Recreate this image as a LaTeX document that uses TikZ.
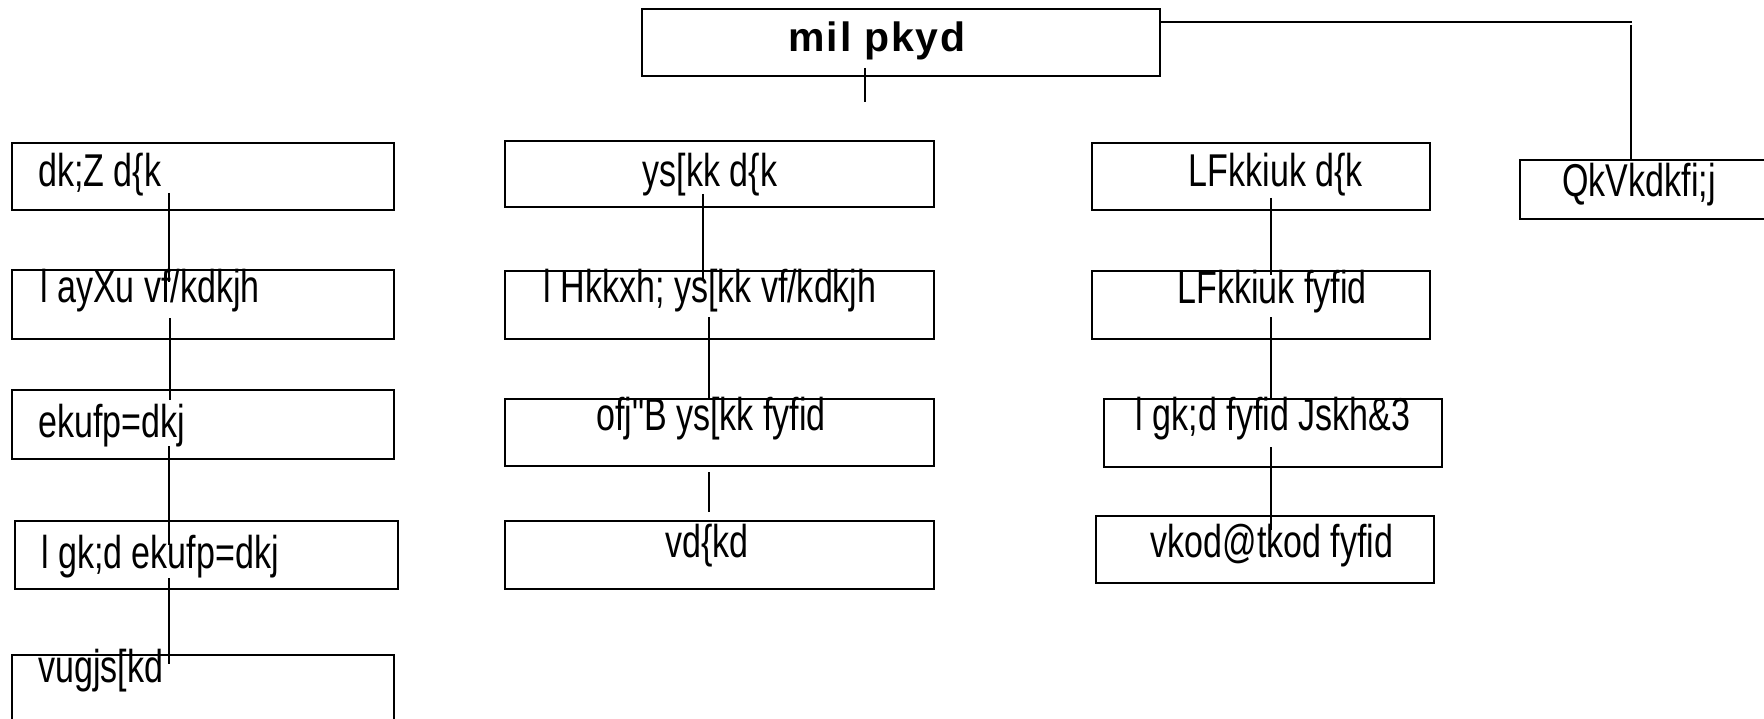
\documentclass[tikz,border=0pt]{standalone}
\usepackage{fontspec}
\setmainfont{Liberation Sans}
\newfontfamily\narrowfont[FakeStretch=0.74]{Liberation Sans}
\newfontfamily\topfont[LetterSpace=4]{Liberation Sans Bold}
\begin{document}
\begin{tikzpicture}[x=1pt,y=-1pt,
  box/.style={draw, line width=2pt, inner sep=0pt, anchor=north west},
  txt/.style={font=\narrowfont\fontsize{46}{50}\selectfont, inner sep=0pt, anchor=base west},
  ctxt/.style={txt, anchor=base},
  toptxt/.style={font=\topfont\fontsize{41}{44}\selectfont, inner sep=0pt, anchor=base},
  conn/.style={line width=2pt}]
\useasboundingbox (0,0) rectangle (1764,719);
\clip (0,0) rectangle (1764,719);
\fill[white] (0,0) rectangle (1764,719);
% top
\node[box, minimum width=518pt, minimum height=67pt] (top) at (641,8) {};
\node[toptxt] (topt) at (877,52) {mil pkyd};
% right branch
\node[box, minimum width=300pt, minimum height=59pt] (q) at (1519,159) {};
\node[ctxt] (qt) at (1639,197) {QkVkdkfi;j};
% left column
\node[box, minimum width=382pt, minimum height=67pt] (l1) at (11,142) {};
\node[txt] (l1t) at (38,187) {dk;Z d\{k};
\node[box, minimum width=382pt, minimum height=69pt] (l2) at (11,269) {};
\node[txt] (l2t) at (40,302) {l ayXu vf/kdkjh};
\node[box, minimum width=382pt, minimum height=69pt] (l3) at (11,389) {};
\node[txt] (l3t) at (38,437) {ekufp=dkj};
\node[box, minimum width=383pt, minimum height=68pt] (l4) at (14,520) {};
\node[txt] (l4t) at (41,568) {l gk;d  ekufp=dkj};
\node[box, minimum width=382pt, minimum height=90pt] (l5) at (11,654) {};
\node[txt] (l5t) at (38,682) {vugjs[kd};
% middle column
\node[box, minimum width=429pt, minimum height=66pt] (m1) at (504,140) {};
\node[ctxt] (m1t) at (710,187) {ys[kk d\{k};
\node[box, minimum width=429pt, minimum height=68pt] (m2) at (504,270) {};
\node[ctxt] (m2t) at (710,303) {l Hkkxh;  ys[kk vf/kdkjh};
\node[box, minimum width=429pt, minimum height=67pt] (m3) at (504,398) {};
\node[ctxt] (m3t) at (711,430) {ofj"B ys[kk fyfid};
\node[box, minimum width=429pt, minimum height=68pt] (m4) at (504,520) {};
\node[ctxt] (m4t) at (707,557) {vd\{kd};
% right column
\node[box, minimum width=338pt, minimum height=67pt] (r1) at (1091,142) {};
\node[ctxt] (r1t) at (1276,187) {LFkkiuk d\{k};
\node[box, minimum width=338pt, minimum height=68pt] (r2) at (1091,270) {};
\node[ctxt] (r2t) at (1272,304) {LFkkiuk fyfid};
\node[box, minimum width=338pt, minimum height=68pt] (r3) at (1103,398) {};
\node[ctxt] (r3t) at (1273,430) {l gk;d fyfid Jskh\&3};
\node[box, minimum width=338pt, minimum height=67pt] (r4) at (1095,515) {};
\node[ctxt] (r4t) at (1272,557) {vkod@tkod fyfid};
% connector coordinates
\coordinate (tk1) at (865,68); \coordinate (tk2) at (865,102);
\coordinate (tr1) at (1159,22); \coordinate (tr2) at (1632,22);
\coordinate (tr3) at (1631,25); \coordinate (tr4) at (1631,159);
\coordinate (a1) at (169,193); \coordinate (a2) at (169,282);
\coordinate (a3) at (170,318); \coordinate (a4) at (170,400);
\coordinate (a5) at (169,446); \coordinate (a6) at (169,545);
\coordinate (a7) at (169,578); \coordinate (a8) at (169,664);
\coordinate (b1) at (703,194); \coordinate (b2) at (703,280);
\coordinate (b3) at (709,317); \coordinate (b4) at (709,400);
\coordinate (b5) at (709,472); \coordinate (b6) at (709,512);
\coordinate (c1) at (1271,198); \coordinate (c2) at (1271,275);
\coordinate (c3) at (1271,317); \coordinate (c4) at (1271,398);
\coordinate (c5) at (1271,447); \coordinate (c6) at (1271,530);
\draw[conn] (tk1) -- (tk2);
\draw[conn] (tr1) -- (tr2);
\draw[conn] (tr3) -- (tr4);
\draw[conn] (a1) -- (a2); \draw[conn] (a3) -- (a4);
\draw[conn] (a5) -- (a6); \draw[conn] (a7) -- (a8);
\draw[conn] (b1) -- (b2); \draw[conn] (b3) -- (b4); \draw[conn] (b5) -- (b6);
\draw[conn] (c1) -- (c2); \draw[conn] (c3) -- (c4); \draw[conn] (c5) -- (c6);
\end{tikzpicture}
\end{document}
